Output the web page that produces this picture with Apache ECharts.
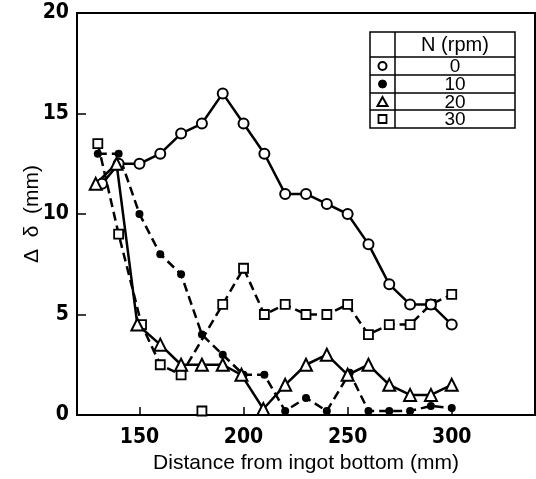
<!DOCTYPE html>
<html>
<head>
<meta charset="utf-8">
<script src="https://cdn.jsdelivr.net/npm/echarts@6/dist/echarts.min.js"></script>
<style>html,body{margin:0;padding:0;background:#fff}#c{width:536px;height:479px}</style>
</head>
<body>
<div id="c"></div>
<script>
// ---- data ----
const xTicks = [150, 200, 250, 300];
const yTicks = [0, 5, 10, 15, 20];
const legendTitle = 'N (rpm)';
const seriesNames = ['0', '10', '20', '30'];
const n0 = [[132,11.5],[140,12.5],[150,12.5],[160,13],[170,14],[180,14.5],[190,16],[200,14.5],[210,13],[220,11],[230,11],[240,10.5],[250,10],[260,8.5],[270,6.5],[280,5.5],[290,5.5],[300,4.5]];
const n10 = [[130,13],[140,13],[150,10],[160,8],[170,7],[180,4],[190,3],[200,2],[210,2],[220,0.2],[230,0.85],[240,0.2],[251,2.1],[260,0.2],[270,0.2],[280,0.2],[290,0.45],[300,0.35]];
const n20 = [[129,11.5],[139,12.5],[149,4.5],[160,3.5],[170,2.5],[180,2.5],[190,2.5],[199,2],[209.5,0.3],[220,1.5],[230,2.5],[240,3],[250,2],[260,2.5],[270,1.5],[280,1],[290,1],[300,1.5]];
const n30 = [[130,13.5],[140,9],[151,4.5],[160,2.5],[170,2],[190,5.5],[200,7.3],[210,5],[220,5.5],[230,5],[240,5],[250,5.5],[260,4],[270,4.5],[280,4.5],[290,5.5],[300,6]];
const n30Isolated = [[180,0.2]];

const chart = echarts.init(document.getElementById('c'), null, {renderer:'canvas'});
const numFont = "'DejaVu Sans',sans-serif";
const txtFont = "'Liberation Sans','Arial',sans-serif";
const openStyle = {color:'#fff', borderColor:'#000', borderWidth:2, opacity:1};
const dash = [9,5];

const L = {x0:370, x1:515, xd:395, y0:32, rows:[57,75,93,110], y1:128};
const cy = [66,84,102,119];
const g = [];
g.push({type:'rect', shape:{x:L.x0,y:L.y0,width:L.x1-L.x0,height:L.y1-L.y0}, style:{fill:'#fff',stroke:'#000',lineWidth:1.5}, z:10});
g.push({type:'line', shape:{x1:L.xd,y1:L.y0,x2:L.xd,y2:L.y1}, style:{stroke:'#000',lineWidth:1.5}, z:11});
L.rows.forEach(y=>g.push({type:'line', shape:{x1:L.x0,y1:y,x2:L.x1,y2:y}, style:{stroke:'#000',lineWidth:1.5}, z:11}));
g.push({type:'text', x:455, y:45, style:{text:legendTitle, font:"20px "+txtFont, fill:'#000', align:'center', verticalAlign:'middle'}, z:12});
seriesNames.forEach((s,i)=>g.push({type:'text', x:455, y:cy[i]+1, style:{text:s, font:"19px "+txtFont, fill:'#000', align:'center', verticalAlign:'middle'}, z:12}));
g.push({type:'circle', shape:{cx:382.5,cy:cy[0],r:4}, style:{fill:'#fff',stroke:'#000',lineWidth:2}, z:12});
g.push({type:'circle', shape:{cx:382.5,cy:cy[1],r:4}, style:{fill:'#000',stroke:'#000',lineWidth:1}, z:12});
g.push({type:'polygon', shape:{points:[[382.5,cy[2]-5],[377.5,cy[2]+4],[387.5,cy[2]+4]]}, style:{fill:'#fff',stroke:'#000',lineWidth:2}, z:12});
g.push({type:'rect', shape:{x:378.5,y:cy[3]-4,width:8,height:8}, style:{fill:'#fff',stroke:'#000',lineWidth:1.8}, z:12});

chart.setOption({
  animation:false,
  backgroundColor:'#fff',
  grid:{left:77, right:1, top:13, bottom:61, show:true, borderColor:'#000', borderWidth:2, backgroundColor:'transparent'},
  xAxis:{
    type:'value', min:120, max:340,
    name:'Distance from ingot bottom (mm)', nameLocation:'middle', nameGap:38, nameMoveOverlap:false,
    nameTextStyle:{fontFamily:txtFont, fontSize:21, color:'#000'},
    axisLine:{show:true, lineStyle:{color:'#000', width:2}},
    axisTick:{show:true, inside:true, length:8, lineStyle:{color:'#000', width:1.5}, customValues:xTicks},
    axisLabel:{customValues:xTicks, margin:12, fontFamily:numFont, fontSize:21, fontWeight:'bold condensed', color:'#000'},
    splitLine:{show:false}
  },
  yAxis:{
    type:'value', min:0, max:20, interval:5,
    name:'Δ  δ  (mm)', nameLocation:'middle', nameGap:34, nameRotate:90, nameMoveOverlap:false,
    nameTextStyle:{fontFamily:txtFont, fontSize:21, color:'#000'},
    axisLine:{show:true, lineStyle:{color:'#000', width:2}},
    axisTick:{show:true, inside:true, length:9, lineStyle:{color:'#000', width:1.5}, customValues:yTicks},
    axisLabel:{customValues:yTicks, margin:8, fontFamily:numFont, fontSize:21, fontWeight:'bold condensed', color:'#000'},
    splitLine:{show:false}
  },
  graphic:g,
  series:[
    {name:'0', type:'line', data:n0, symbol:'circle', symbolSize:10, itemStyle:openStyle, lineStyle:{color:'#000', width:2.5}, z:5},
    {name:'10', type:'line', data:n10, symbol:'circle', symbolSize:8, itemStyle:{color:'#000', opacity:1}, lineStyle:{color:'#000', width:2.5, type:dash}, z:4},
    {name:'20', type:'line', data:n20, symbol:'triangle', symbolSize:12, itemStyle:openStyle, lineStyle:{color:'#000', width:2.5}, z:5},
    {name:'30', type:'line', data:n30, symbol:'rect', symbolSize:9, itemStyle:{color:'#fff', borderColor:'#000', borderWidth:1.8, opacity:1}, lineStyle:{color:'#000', width:2.5, type:dash}, z:4},
    {name:'30b', type:'scatter', data:n30Isolated, symbol:'rect', symbolSize:9, itemStyle:{color:'#fff', borderColor:'#000', borderWidth:1.8, opacity:1}, z:4}
  ]
});
</script>
</body>
</html>
